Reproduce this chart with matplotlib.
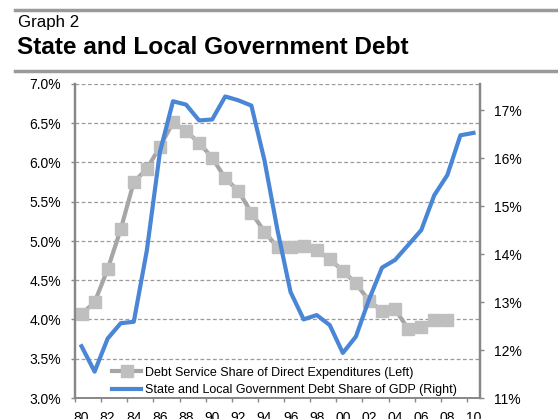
import matplotlib
matplotlib.use('Agg')
import matplotlib.pyplot as plt
from matplotlib.ticker import FixedLocator, FuncFormatter

plt.rcParams['font.family'] = ['Liberation Sans', 'DejaVu Sans']

# data
years = list(range(1980, 2011))
year_labels = [f"{y % 100:02d}" for y in years]

debt_service_years = list(range(1980, 2009))
debt_service = [4.07, 4.22, 4.64, 5.15, 5.75, 5.92, 6.20, 6.51, 6.40, 6.25,
                6.06, 5.80, 5.64, 5.36, 5.12, 4.92, 4.92, 4.94, 4.88, 4.77,
                4.62, 4.46, 4.24, 4.11, 4.13, 3.88, 3.90, 3.99, 3.99]

debt_gdp = [12.08, 11.55, 12.24, 12.56, 12.59, 14.08, 16.13, 17.19, 17.12, 16.79,
            16.81, 17.29, 17.21, 17.10, 15.96, 14.50, 13.21, 12.64, 12.73, 12.52,
            11.94, 12.28, 13.05, 13.72, 13.88, 14.19, 14.50, 15.23, 15.65, 16.48,
            16.53]

left_ticks = [3.0, 3.5, 4.0, 4.5, 5.0, 5.5, 6.0, 6.5, 7.0]
right_ticks = [11, 12, 13, 14, 15, 16, 17]

GRAY_LINE = '#A6A6A6'
GRAY_MARK = '#BFBFBF'
BLUE = '#4A86D6'
AXIS = '#878787'

fig = plt.figure(figsize=(5.58, 4.19), dpi=100)

# header rules and titles
fig.add_artist(plt.Line2D([15 / 558, 1], [1 - 10 / 419] * 2, color='#9A9A9A', lw=2.5))
fig.add_artist(plt.Line2D([15 / 558, 1], [1 - 71 / 419] * 2, color='#9A9A9A', lw=2.5))
fig.text(18 / 558, 1 - 27 / 419, 'Graph 2', fontsize=12.2, ha='left', va='baseline')
fig.text(17 / 558, 1 - 54 / 419, 'State and Local Government Debt', fontsize=17.6,
         fontweight='bold', ha='left', va='baseline')

left, right, top, bottom = 75, 480, 84, 398
ax = fig.add_axes([left / 558, 1 - bottom / 419, (right - left) / 558, (bottom - top) / 419])
ax2 = ax.twinx()

x_all = list(range(len(years)))
x_ds = [years.index(y) for y in debt_service_years]

l1, = ax.plot(x_ds, debt_service, color=GRAY_LINE, lw=3, marker='s', ms=8,
              mfc=GRAY_MARK, mec=GRAY_MARK, zorder=3,
              label='Debt Service Share of Direct Expenditures (Left)')
l2, = ax2.plot(x_all, debt_gdp, color=BLUE, lw=3,
               label='State and Local Government Debt Share of GDP (Right)')

ax.set_xlim(-0.5, len(years) - 0.5)
ax.set_ylim(3.0, 7.0)
ax2.set_ylim(11, 17.55)

ax.set_yticks(left_ticks)
ax.yaxis.set_major_formatter(FuncFormatter(lambda v, p: f"{v:.1f}%"))
ax2.set_yticks(right_ticks)
ax2.yaxis.set_major_formatter(FuncFormatter(lambda v, p: f"{v:.0f}%"))

# x: tick marks at category boundaries, labels at every other category centre
ax.xaxis.set_major_locator(FixedLocator([i - 0.5 for i in range(0, len(years), 2)]))
ax.xaxis.set_minor_locator(FixedLocator(list(range(0, len(years), 2))))
ax.xaxis.set_major_formatter(FuncFormatter(lambda v, p: ''))
ax.xaxis.set_minor_formatter(FuncFormatter(lambda v, p: year_labels[int(round(v))]))
ax.tick_params(axis='x', which='major', length=3, width=1, color=AXIS, direction='out')
ax.tick_params(axis='x', which='minor', length=0, pad=9, labelsize=10)

ax.tick_params(axis='y', length=3, width=1, color=AXIS, pad=7, labelsize=10)
ax2.tick_params(axis='y', length=3, width=1, color=AXIS, pad=7, labelsize=10)

ax.grid(axis='y', color='#9A9A9A', ls=(0, (3, 2)), lw=0.9)
ax.set_axisbelow(True)

for a in (ax, ax2):
    a.spines['top'].set_visible(False)
    a.spines['left'].set_color(AXIS)
    a.spines['right'].set_color(AXIS)
    a.spines['bottom'].set_color(AXIS)
    a.spines['left'].set_linewidth(1.6)
    a.spines['right'].set_linewidth(1.6)
    a.spines['bottom'].set_linewidth(1.2)

ax2.legend(handles=[l1, l2], loc='lower left', bbox_to_anchor=(0.08, -0.01),
           frameon=False, fontsize=9, handlelength=2.3, handletextpad=0.3,
           labelspacing=0.45, borderaxespad=0)

fig.savefig('out.png', dpi=100)
